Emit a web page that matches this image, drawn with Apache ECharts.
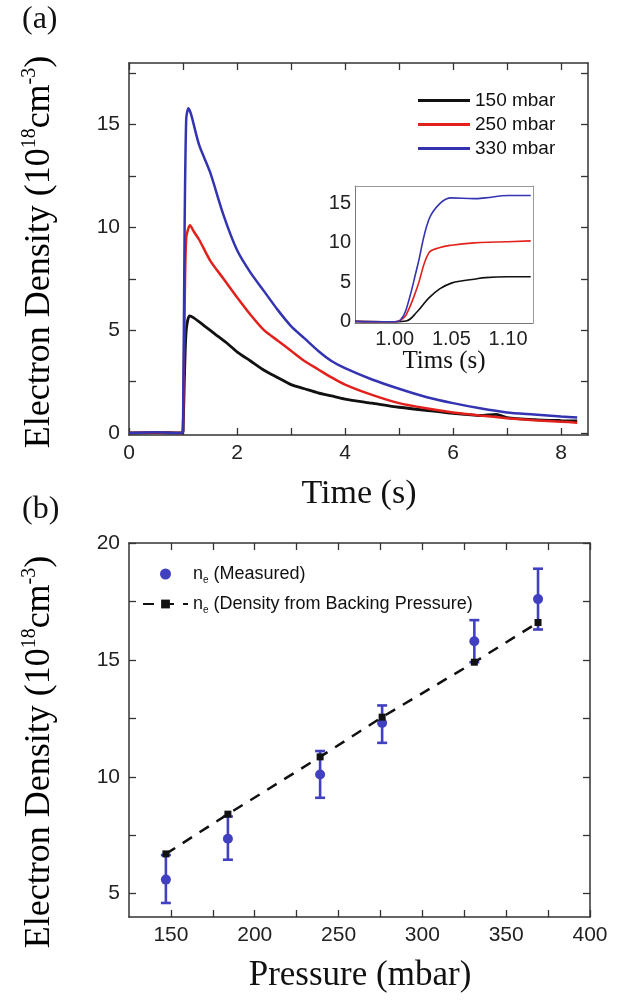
<!DOCTYPE html>
<html>
<head>
<meta charset="utf-8">
<script src="https://cdn.jsdelivr.net/npm/echarts@6/dist/echarts.min.js"></script>
<style>
  html, body { margin: 0; padding: 0; background: #fff; }
  #chart { width: 634px; height: 1007px; }
</style>
</head>
<body>
<div id="chart"></div>
<script>
// (a) electron density vs time, [t (s), n (1e18 cm^-3)]
const d150 = [[0,0],[0.5,0.02],[0.98,0],[1.0,0.1],[1.03,3],[1.06,5],[1.12,5.7],[1.2,5.6],[1.4,5.2],[1.6,4.8],[1.8,4.4],[2.0,3.95],[2.25,3.5],[2.5,3.05],[2.75,2.7],[3.0,2.35],[3.25,2.15],[3.5,1.95],[3.75,1.8],[4.0,1.65],[4.5,1.45],[5.0,1.25],[5.5,1.1],[6.0,0.95],[6.5,0.85],[6.8,0.9],[7.0,0.75],[7.5,0.65],[8.0,0.6],[8.3,0.58]];
const d250 = [[0,0],[0.5,0.02],[0.98,0],[1.0,0.1],[1.03,6],[1.06,9.5],[1.13,10.1],[1.2,9.8],[1.3,9.4],[1.5,8.4],[1.75,7.5],[2.0,6.6],[2.25,5.75],[2.5,5.0],[2.75,4.5],[3.0,4.0],[3.25,3.5],[3.5,3.1],[3.75,2.7],[4.0,2.35],[4.5,1.85],[5.0,1.45],[5.5,1.2],[6.0,1.0],[6.5,0.85],[7.0,0.72],[7.5,0.62],[8.0,0.55],[8.3,0.5]];
const d330 = [[0,0],[0.5,0.03],[0.98,0],[1.0,0.1],[1.03,10],[1.06,15.3],[1.1,15.8],[1.15,15.5],[1.3,14.0],[1.5,12.7],[1.75,10.6],[2.0,8.9],[2.25,7.8],[2.5,6.9],[2.75,6.0],[3.0,5.2],[3.25,4.6],[3.5,4.0],[3.75,3.5],[4.0,3.15],[4.5,2.6],[5.0,2.15],[5.5,1.75],[6.0,1.45],[6.5,1.2],[7.0,1.0],[7.5,0.9],[8.0,0.8],[8.3,0.75]];

// inset: zoom on the rise
const i150 = [[0.965,0.05],[0.99,0],[1.0,0],[1.01,0.1],[1.02,1.3],[1.03,3.0],[1.04,4.2],[1.05,4.9],[1.06,5.2],[1.07,5.4],[1.08,5.6],[1.1,5.7],[1.12,5.7]];
const i250 = [[0.965,0.05],[0.99,0],[1.0,0],[1.005,0.2],[1.01,0.85],[1.02,4.4],[1.03,8.7],[1.04,9.4],[1.05,9.7],[1.07,10.0],[1.09,10.1],[1.12,10.25]];
const i330 = [[0.965,0.05],[0.99,0],[1.0,0],[1.005,0.2],[1.01,1.5],[1.02,7.0],[1.03,12.9],[1.04,15.0],[1.05,15.7],[1.07,15.6],[1.08,15.7],[1.1,16.0],[1.12,16.0]];

// (b) density vs backing pressure
const pressure = [147, 184, 239, 276, 331, 369];
const measured = [5.6, 7.35, 10.1, 12.3, 15.8, 17.6];
const errLow   = [4.6, 6.45, 9.1, 11.45, 14.9, 16.3];
const errHigh  = [6.65, 8.3, 11.1, 13.05, 16.7, 18.9];
const backing  = [6.7, 8.4, 10.85, 12.55, 14.9, 16.6];

const xTicksA = [0, 2, 4, 6, 8];
const xMinorA = [0, 1, 2, 3, 4, 5, 6, 7, 8];
const yTicksA = [0, 5, 10, 15];
const yMinorA = [0, 2.5, 5, 7.5, 10, 12.5, 15, 17.5];
const xTicksIn = [1.00, 1.05, 1.10];
const yTicksIn = [0, 5, 10, 15];
const xTicksB = [150, 200, 250, 300, 350, 400];
const xMinorB = [150, 175, 200, 225, 250, 275, 300, 325, 350, 375, 400];
const yTicksB = [5, 10, 15, 20];
const yMinorB = [5, 7.5, 10, 12.5, 15, 17.5, 20];

const BLACK = '#111111', RED = '#e3211c', BLUE = '#3434b2', PT = '#4040c0';
const SANS = '"Liberation Sans", Arial, sans-serif';
const SERIF = '"Liberation Serif", "Times New Roman", serif';
const AX = '#333';

const chart = echarts.init(document.getElementById('chart'));

function xAx(grid, min, max, ticks, minor, opts) {
  return Object.assign({
    type: 'value', gridIndex: grid, min: min, max: max, position: 'bottom',
    splitLine: { show: false },
    axisLine: { onZero: false, lineStyle: { color: AX, width: 1.5 } },
    axisTick: { inside: true, length: 7, customValues: minor, lineStyle: { color: AX, width: 1.3 } },
    axisLabel: { customValues: ticks, color: '#222', fontFamily: SANS, fontSize: 21, margin: 8,
      formatter: v => String(v) }
  }, opts || {});
}
function yAx(grid, min, max, ticks, minor, opts) {
  return Object.assign({
    type: 'value', gridIndex: grid, min: min, max: max, position: 'left',
    splitLine: { show: false },
    axisLine: { onZero: false, lineStyle: { color: AX, width: 1.5 } },
    axisTick: { inside: true, length: 7, customValues: minor, lineStyle: { color: AX, width: 1.3 } },
    axisLabel: { customValues: ticks, color: '#222', fontFamily: SANS, fontSize: 21, margin: 9,
      formatter: v => String(v) }
  }, opts || {});
}
const mirror = { axisLabel: { show: false } };

const titleRich = {
  m: { fontFamily: SERIF, fontSize: 36, lineHeight: 40, color: '#111' },
  s: { fontFamily: SERIF, fontSize: 20, lineHeight: 22, verticalAlign: 'top', color: '#111' }
};
const yTitle = '{m|Electron Density (10}{s|18}{m|cm}{s|-3}{m|)}';

function curve(name, grid, data, color, width, smooth) {
  return { name: name, type: 'line', xAxisIndex: grid, yAxisIndex: grid, data: data,
    symbol: 'none', smooth: smooth,
    lineStyle: { color: color, width: width }, itemStyle: { color: color } };
}

const option = {
  animation: false,
  grid: [
    { left: 129, top: 63, width: 459, height: 372 },
    { left: 355, top: 186, width: 178, height: 137 },
    { left: 129, top: 543, width: 461, height: 374 }
  ],
  xAxis: [
    xAx(0, 0, 8.5, xTicksA, xMinorA),
    xAx(0, 0, 8.5, xTicksA, xMinorA, Object.assign({ position: 'top' }, mirror)),
    xAx(1, 0.965, 1.122, xTicksIn, xTicksIn, {
      axisLine: { onZero: false, lineStyle: { color: '#777', width: 1 } },
      axisTick: { show: false },
      axisLabel: { customValues: xTicksIn, color: '#222', fontFamily: SANS, fontSize: 20, margin: 6,
        formatter: v => v.toFixed(2) }
    }),
    xAx(1, 0.965, 1.122, xTicksIn, xTicksIn, { position: 'top', axisLabel: { show: false }, axisTick: { show: false },
      axisLine: { onZero: false, lineStyle: { color: '#999', width: 1 } } }),
    xAx(2, 125, 400, xTicksB, xMinorB),
    xAx(2, 125, 400, xTicksB, xMinorB, Object.assign({ position: 'top' }, mirror))
  ],
  yAxis: [
    yAx(0, -0.1, 18, yTicksA, yMinorA),
    yAx(0, -0.1, 18, yTicksA, yMinorA, Object.assign({ position: 'right' }, mirror)),
    yAx(1, -0.15, 17.2, yTicksIn, yTicksIn, {
      axisLine: { onZero: false, lineStyle: { color: '#777', width: 1 } },
      axisTick: { show: false },
      axisLabel: { customValues: yTicksIn, color: '#222', fontFamily: SANS, fontSize: 20, margin: 4,
        formatter: v => String(v) }
    }),
    yAx(1, -0.15, 17.2, yTicksIn, yTicksIn, { position: 'right', axisLabel: { show: false }, axisTick: { show: false },
      axisLine: { onZero: false, lineStyle: { color: '#999', width: 1 } } }),
    yAx(2, 4, 20, yTicksB, yMinorB),
    yAx(2, 4, 20, yTicksB, yMinorB, Object.assign({ position: 'right' }, mirror))
  ],
  legend: [
    {
      data: [
        { name: '150 mbar', icon: 'rect', itemStyle: { color: BLACK } },
        { name: '250 mbar', icon: 'rect', itemStyle: { color: RED } },
        { name: '330 mbar', icon: 'rect', itemStyle: { color: BLUE } }
      ],
      orient: 'vertical', left: 413, top: 86, itemWidth: 52, itemHeight: 3, itemGap: 5,
      textStyle: { fontFamily: SANS, fontSize: 19, color: '#111' }
    },
    {
      data: ['ne (Measured)', 'ne (Density from Backing Pressure)'],
      orient: 'vertical', left: 137, top: 560, itemWidth: 45, itemHeight: 11, itemGap: 10,
      formatter: name => name.replace(/^ne/, '{n|n}{e|e}'),
      textStyle: {
        fontFamily: SANS, fontSize: 18, color: '#111',
        rich: {
          n: { fontFamily: SANS, fontSize: 18, lineHeight: 22, color: '#111' },
          e: { fontFamily: SANS, fontSize: 10, lineHeight: 12, verticalAlign: 'bottom', color: '#111' }
        }
      }
    }
  ],
  graphic: [
    { type: 'text', left: 22, top: 4, style: { text: '(a)', fontFamily: SERIF, fontSize: 32, fill: '#111' } },
    { type: 'text', left: 22, top: 494, style: { text: '(b)', fontFamily: SERIF, fontSize: 32, fill: '#111' } },
    { type: 'text', x: 40, y: 252, rotation: Math.PI / 2,
      style: { text: yTitle, rich: titleRich, align: 'center', verticalAlign: 'middle' } },
    { type: 'text', x: 40, y: 752, rotation: Math.PI / 2,
      style: { text: yTitle, rich: titleRich, align: 'center', verticalAlign: 'middle' } },
    { type: 'text', x: 359, y: 494,
      style: { text: 'Time (s)', fontFamily: SERIF, fontSize: 34, fill: '#111', align: 'center', verticalAlign: 'middle' } },
    { type: 'text', x: 444, y: 361,
      style: { text: 'Tims (s)', fontFamily: SERIF, fontSize: 25, fill: '#111', align: 'center', verticalAlign: 'middle' } },
    { type: 'text', x: 360, y: 976,
      style: { text: 'Pressure (mbar)', fontFamily: SERIF, fontSize: 35, fill: '#111', align: 'center', verticalAlign: 'middle' } }
  ],
  series: [
    curve('150 mbar', 0, d150, BLACK, 2.8, 0.25),
    curve('250 mbar', 0, d250, RED, 2.5, 0.25),
    curve('330 mbar', 0, d330, BLUE, 2.5, 0.25),
    curve('150 mbar', 2, i150, BLACK, 1.6, 0.4),
    curve('250 mbar', 2, i250, RED, 1.6, 0.4),
    curve('330 mbar', 2, i330, BLUE, 1.6, 0.4),
    { name: 'ne (Density from Backing Pressure)', type: 'line', xAxisIndex: 4, yAxisIndex: 4,
      data: pressure.map((p, i) => [p, backing[i]]),
      symbol: 'rect', symbolSize: 7,
      lineStyle: { color: BLACK, width: 2.5, type: [11, 9] }, itemStyle: { color: BLACK } },
    { name: 'error bars', type: 'custom', xAxisIndex: 4, yAxisIndex: 4,
      data: pressure.map((p, i) => [p, errLow[i], errHigh[i]]),
      encode: { x: 0, y: [1, 2] },
      renderItem: function (params, api) {
        const x = api.value(0);
        const lo = api.coord([x, api.value(1)]);
        const hi = api.coord([x, api.value(2)]);
        const w = 5;
        const st = { stroke: PT, lineWidth: 2.6 };
        return { type: 'group', children: [
          { type: 'line', shape: { x1: lo[0], y1: lo[1], x2: hi[0], y2: hi[1] }, style: st },
          { type: 'line', shape: { x1: lo[0] - w, y1: lo[1], x2: lo[0] + w, y2: lo[1] }, style: st },
          { type: 'line', shape: { x1: hi[0] - w, y1: hi[1], x2: hi[0] + w, y2: hi[1] }, style: st }
        ] };
      },
      itemStyle: { color: PT }
    },
    { name: 'ne (Measured)', type: 'scatter', xAxisIndex: 4, yAxisIndex: 4,
      data: pressure.map((p, i) => [p, measured[i]]),
      symbol: 'circle', symbolSize: 10, itemStyle: { color: PT, opacity: 1 } }
  ]
};

chart.setOption(option);
</script>
</body>
</html>
